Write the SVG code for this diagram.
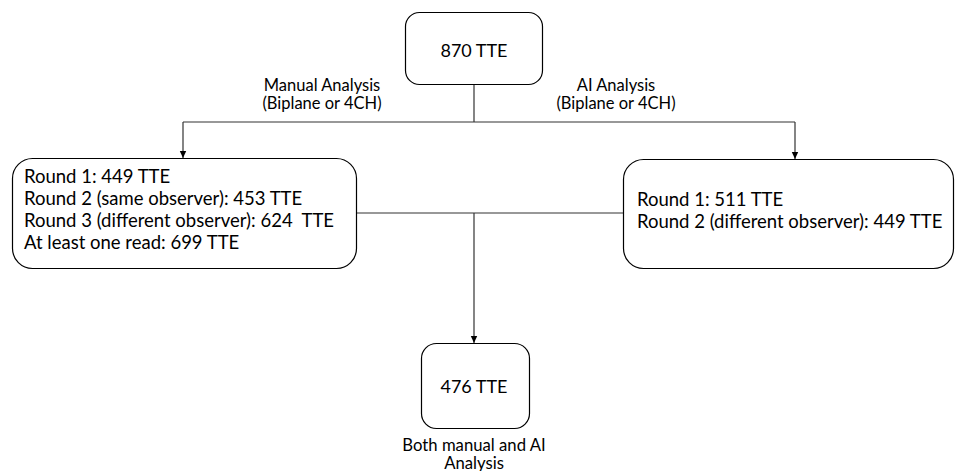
<svg xmlns="http://www.w3.org/2000/svg" width="955" height="471" viewBox="0 0 955 471">
  <style>
    .box { fill: #ffffff; stroke: #000000; stroke-width: 1.2; }
    .edge { fill: none; stroke: #333333; stroke-width: 1.2; }
    .t { font-family: Lato, "Liberation Sans", sans-serif; fill: #000000; }
    .big { font-size: 18.5px; }
    .mid { font-size: 18px; }
    .cap { font-size: 16.7px; }
    .lbl { font-size: 16.5px; }
  </style>
  <defs>
    <marker id="arrow" markerWidth="8" markerHeight="8" refX="7" refY="4" orient="auto" markerUnits="userSpaceOnUse">
      <path d="M0,0.8 L7,4 L0,7.2 Z" fill="#000000"/>
    </marker>
  </defs>
  <rect width="955" height="471" fill="#ffffff"/>

  <g id="connectors">
    <line class="edge" x1="474" y1="85" x2="474" y2="122"/>
    <line class="edge" x1="183" y1="122" x2="795" y2="122"/>
    <line class="edge" x1="183" y1="122" x2="183" y2="158" marker-end="url(#arrow)"/>
    <line class="edge" x1="795" y1="122" x2="795" y2="159" marker-end="url(#arrow)"/>
    <line class="edge" x1="357" y1="213" x2="623" y2="213"/>
    <line class="edge" x1="474" y1="213" x2="474" y2="343" marker-end="url(#arrow)"/>
    <text class="t lbl" x="322" y="91" text-anchor="middle">Manual Analysis</text>
    <text class="t lbl" x="322" y="109" text-anchor="middle">(Biplane or 4CH)</text>
    <text class="t lbl" x="616" y="91" text-anchor="middle">AI Analysis</text>
    <text class="t lbl" x="616" y="109" text-anchor="middle">(Biplane or 4CH)</text>
  </g>

  <g id="n-total">
    <rect class="box" x="405.5" y="12.5" width="137" height="72" rx="14"/>
    <text class="t mid" x="474" y="57" text-anchor="middle">870 TTE</text>
  </g>

  <g id="n-manual">
    <rect class="box" x="12.5" y="158.5" width="344" height="110" rx="20"/>
    <text class="t big" x="24" y="183">Round 1: 449 TTE</text>
    <text class="t big" x="24" y="205">Round 2 (same observer): 453 TTE</text>
    <text class="t big" x="24" y="227" xml:space="preserve">Round 3 (different observer): 624  TTE</text>
    <text class="t big" x="24" y="249">At least one read: 699 TTE</text>
  </g>

  <g id="n-ai">
    <rect class="box" x="623.5" y="159.5" width="330" height="109" rx="20"/>
    <text class="t big" x="637" y="206">Round 1: 511 TTE</text>
    <text class="t big" x="637" y="228">Round 2 (different observer): 449 TTE</text>
  </g>

  <g id="n-both">
    <rect class="box" x="421.5" y="343.5" width="108" height="85" rx="15"/>
    <text class="t mid" x="474" y="393" text-anchor="middle">476 TTE</text>
    <text class="t cap" x="474" y="451" text-anchor="middle">Both manual and AI</text>
    <text class="t cap" x="474" y="469" text-anchor="middle">Analysis</text>
  </g>
</svg>
